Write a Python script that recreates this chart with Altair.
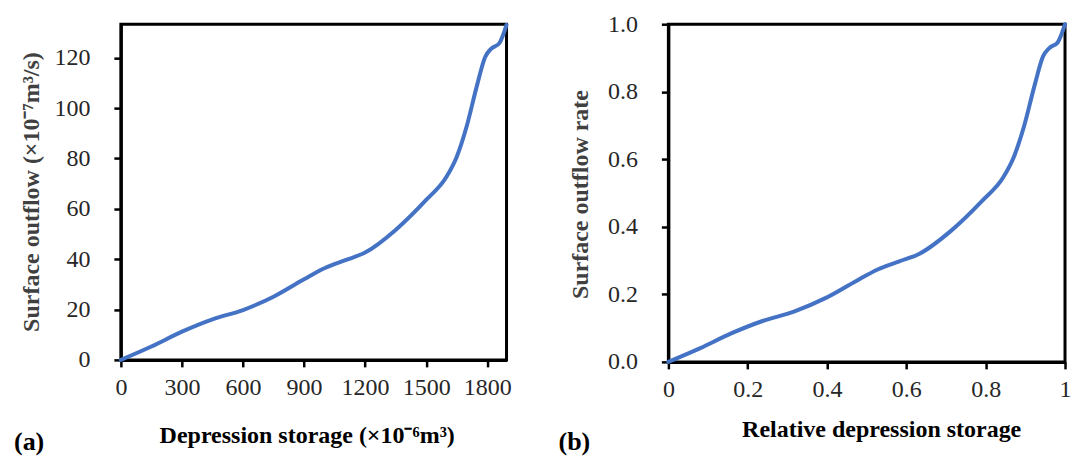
import altair as alt
import pandas as pd

# Depression storage (x10^-6 m^3) and surface outflow (x10^-7 m^3/s)
storage = [0, 150, 300, 450, 600, 750, 900, 1000, 1100, 1200, 1350, 1500,
           1600, 1650, 1700, 1750, 1790, 1820, 1860, 1895]
outflow = [0, 5.3, 11.2, 16.1, 19.8, 25.1, 32.0, 36.4, 39.5, 42.6, 51.6, 63.5,
           72.7, 80.6, 93.0, 109.0, 120.3, 123.6, 125.8, 133.0]

x_ticks_a = [0, 300, 600, 900, 1200, 1500, 1800]
y_ticks_a = [0, 20, 40, 60, 80, 100, 120]
x_ticks_b = [0, 0.2, 0.4, 0.6, 0.8, 1]
y_ticks_b = [0, 0.2, 0.4, 0.6, 0.8, 1.0]

BLUE = "#4472C4"
SERIF = "Liberation Serif"

df = pd.DataFrame({"storage": storage, "outflow": outflow})

line_style = dict(color=BLUE, strokeWidth=4, interpolate="monotone",
                  strokeCap="round", strokeJoin="round")

# Panel (a): absolute values
line_a = alt.Chart(df).mark_line(**line_style).encode(
    x=alt.X("storage:Q",
            scale=alt.Scale(domain=[0, max(storage)], nice=False, zero=True),
            axis=alt.Axis(values=x_ticks_a, format="d", labelPadding=9,
                          title="Depression storage (×10⁻⁶m³)",
                          titleX=186, titleY=76)),
    y=alt.Y("outflow:Q",
            scale=alt.Scale(domain=[0, 133.3], nice=False),
            axis=alt.Axis(values=y_ticks_a, format="d", labelPadding=24,
                          title="Surface outflow (×10⁻⁷m³/s)",
                          titleX=-89, titleY=167.5)),
)
tag_a = alt.Chart(alt.Data(values=[{"t": "(a)"}])).mark_text(
    align="left", baseline="middle", font=SERIF, fontSize=26,
    fontWeight="bold", color="black",
).encode(x=alt.value(-107), y=alt.value(418), text="t:N")

panel_a = alt.layer(line_a, tag_a).properties(width=386, height=336)

# Panel (b): both axes scaled by their maxima
line_b = alt.Chart(df).transform_joinaggregate(
    smax="max(storage)", omax="max(outflow)"
).transform_calculate(
    rx="datum.storage / datum.smax", ry="datum.outflow / datum.omax"
).mark_line(**line_style).encode(
    x=alt.X("rx:Q",
            scale=alt.Scale(domain=[0, 1], nice=False),
            axis=alt.Axis(values=x_ticks_b, format="~g", labelPadding=9,
                          title="Relative depression storage",
                          titleX=213, titleY=68)),
    y=alt.Y("ry:Q",
            scale=alt.Scale(domain=[0, 1], nice=False),
            axis=alt.Axis(values=y_ticks_b, format=".1f", labelPadding=24,
                          title="Surface outflow rate",
                          titleX=-88, titleY=170)),
)
tag_b = alt.Chart(alt.Data(values=[{"t": "(b)"}])).mark_text(
    align="left", baseline="middle", font=SERIF, fontSize=26,
    fontWeight="bold", color="black",
).encode(x=alt.value(-110), y=alt.value(418), text="t:N")

panel_b = alt.layer(line_b, tag_b).properties(width=397, height=338)

chart = alt.hconcat(panel_a, panel_b, spacing=162, bounds="flush").properties(
    padding={"left": 12, "top": 10, "right": 5, "bottom": 5},
    background="white",
).configure_view(
    stroke="black", strokeWidth=3,
).configure_axis(
    grid=False,
    domainColor="black", domainWidth=3,
    tickColor="black", tickWidth=2.5, tickSize=7,
    labelFont=SERIF, labelFontSize=24, labelColor="#262626",
    labelFlush=False, labelOverlap=False,
    titleFont=SERIF, titleFontSize=24, titleFontWeight="bold",
    titleAlign="center", titleBaseline="middle",
).configure_axisX(
    titleColor="black",
).configure_axisY(
    titleColor="#404040", titleAngle=270,
)

chart.save("out.html", embed_options={"renderer": "svg", "actions": False})
